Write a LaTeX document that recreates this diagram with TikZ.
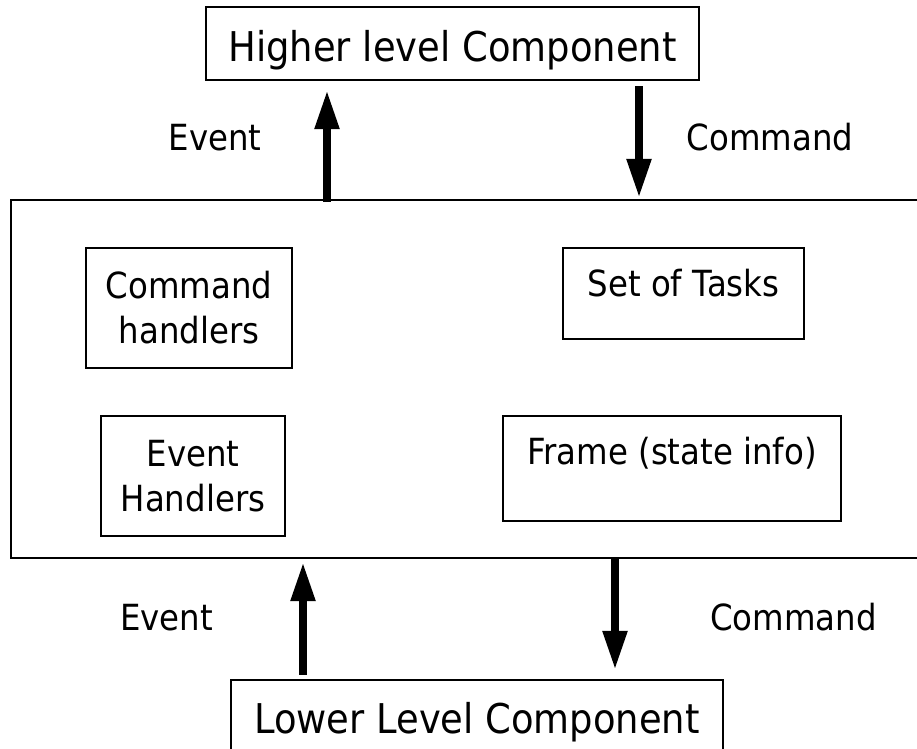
\documentclass[tikz,border=0pt]{standalone}
\usepackage{fontspec}
\setmainfont{DejaVu Sans}[FakeStretch=0.9]
\usetikzlibrary{arrows.meta}
\newcommand{\cmpTitle}{\fontsize{41bp}{49bp}\selectfont}
\newcommand{\cmpBody}{\fontsize{36bp}{45bp}\selectfont}
\tikzset{
  box/.style={draw, line width=2.2bp, inner sep=0pt, rectangle},
  titlebox/.style={box, font=\cmpTitle},
  partbox/.style={box, font=\cmpBody, align=center},
  lbl/.style={font=\cmpBody, inner sep=0pt, anchor=base},
  flow/.style={line width=8bp, -{Triangle[length=39bp,width=23bp]}}
}
\begin{document}
\begin{tikzpicture}[x=1bp, y=-1bp]
  \clip (0,0) rectangle (917,749);

  % component boundary (open to the right)
  \node[box, minimum width=919bp, minimum height=358bp] (mid) at (470.5,379) {};

  % neighbouring components
  \node[titlebox, minimum width=493bp, text height=55bp, text depth=18bp, anchor=base]
    (hi) at (452.5,62) {Higher level Component};
  \node[titlebox, minimum width=492bp, text height=53bp, text depth=40bp, anchor=base]
    (lo) at (477,733) {Lower Level Component};

  % parts of the component
  \node[partbox, minimum width=206bp, minimum height=120bp] (cmdh) at (189,308) {Command\\handlers};
  \node[partbox, minimum width=184bp, minimum height=120bp] (evh) at (193,476) {Event\\Handlers};
  \node[partbox, minimum width=241bp, text height=48bp, text depth=43bp, anchor=base]
    (tasks) at (683.5,296) {Set of Tasks};
  \node[partbox, minimum width=338bp, text height=48bp, text depth=57bp, anchor=base]
    (frame) at (672,464) {Frame (state info)};

  % interface labels
  \node[lbl] (evup) at (215,150) {Event};
  \node[lbl] (cmdup) at (770,150) {Command};
  \node[lbl] (evlo) at (166.5,630) {Event};
  \node[lbl] (cmdlo) at (793.5,630) {Command};

  % arrow columns
  \coordinate (ev1) at (327,0);
  \coordinate (cm1) at (639,0);
  \coordinate (ev2) at (303,0);
  \coordinate (cm2) at (615,0);

  \draw[flow, shorten <=-3bp, shorten >=9bp] (mid.north -| ev1) -- (hi.south -| ev1);
  \draw[flow, shorten <=5bp, shorten >=1bp] (hi.south -| cm1) -- (mid.north -| cm1);
  \draw[flow, shorten <=4bp, shorten >=3bp] (lo.north -| ev2) -- (mid.south -| ev2);
  \draw[flow, shorten <=-2bp, shorten >=9bp] (mid.south -| cm2) -- (lo.north -| cm2);
\end{tikzpicture}
\end{document}
